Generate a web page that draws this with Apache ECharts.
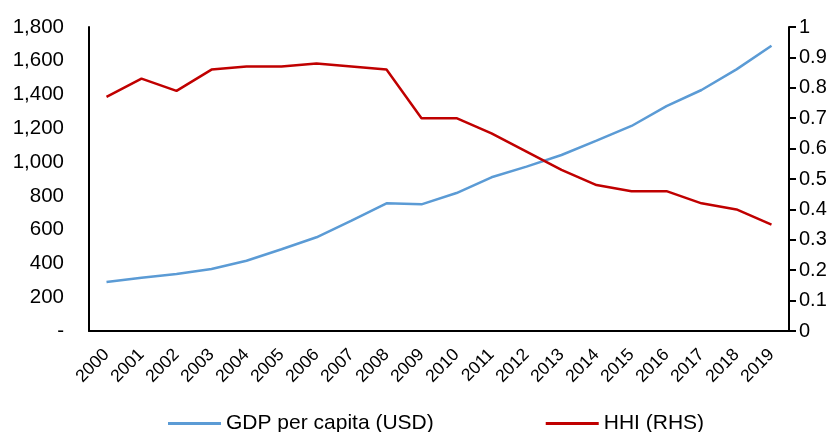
<!DOCTYPE html>
<html><head><meta charset="utf-8">
<script src="https://cdn.jsdelivr.net/npm/echarts@6/dist/echarts.min.js"></script>
<style>html,body{margin:0;padding:0;background:#fff}#c{width:837px;height:432px}</style>
</head><body><div id="c"></div>
<script>
var years = ['2000','2001','2002','2003','2004','2005','2006','2007','2008','2009','2010','2011','2012','2013','2014','2015','2016','2017','2018','2019'];
var gdpPerCapita = [290,315,337,367,416,484,555,653,756,750,817,910,973,1042,1127,1214,1332,1427,1549,1689];
var hhi = [0.77,0.83,0.79,0.86,0.87,0.87,0.88,0.87,0.86,0.70,0.70,0.65,0.59,0.53,0.48,0.46,0.46,0.42,0.40,0.35];
var seriesNames = ['GDP per capita (USD)','HHI (RHS)'];
var font = 'Liberation Sans, Arial, sans-serif';
var chart = echarts.init(document.getElementById('c'));
chart.setOption({
  animation:false,
  grid:{left:89,right:48,top:27,bottom:101,containLabel:false},
  legend:{bottom:-7,left:163,itemWidth:53,itemHeight:3,itemGap:112,
    icon:'rect',
    textStyle:{fontFamily:font,fontSize:21,color:'#000'},
    data:seriesNames},
  xAxis:{type:'category',data:years,boundaryGap:true,
    axisLine:{lineStyle:{color:'#000',width:2}},
    axisTick:{show:false},
    axisLabel:{rotate:45,fontFamily:font,fontSize:17.5,color:'#000',margin:21,interval:0}},
  yAxis:[
    {type:'value',min:0,max:1800,interval:200,
     axisLine:{show:true,lineStyle:{color:'#000',width:2}},
     axisTick:{show:false},splitLine:{show:false},
     axisLabel:{fontFamily:font,fontSize:20.5,color:'#000',margin:25,
       formatter:function(v){return v===0?'-':v.toLocaleString('en-US');}}},
    {type:'value',min:0,max:1,interval:0.1,position:'right',
     axisLine:{show:true,lineStyle:{color:'#000',width:2}},
     axisTick:{show:true,inside:false,length:7,lineStyle:{color:'#000',width:2}},
     splitLine:{show:false},
     axisLabel:{fontFamily:font,fontSize:20,color:'#000',margin:10,
       formatter:function(v){return String(Math.round(v*10)/10);}}}
  ],
  series:[
    {name:seriesNames[0],type:'line',data:gdpPerCapita,yAxisIndex:0,symbol:'none',
     lineStyle:{color:'#5B9BD5',width:2.5},itemStyle:{color:'#5B9BD5'}},
    {name:seriesNames[1],type:'line',data:hhi,yAxisIndex:1,symbol:'none',
     lineStyle:{color:'#C00000',width:2.5},itemStyle:{color:'#C00000'}}
  ]
});
</script></body></html>
